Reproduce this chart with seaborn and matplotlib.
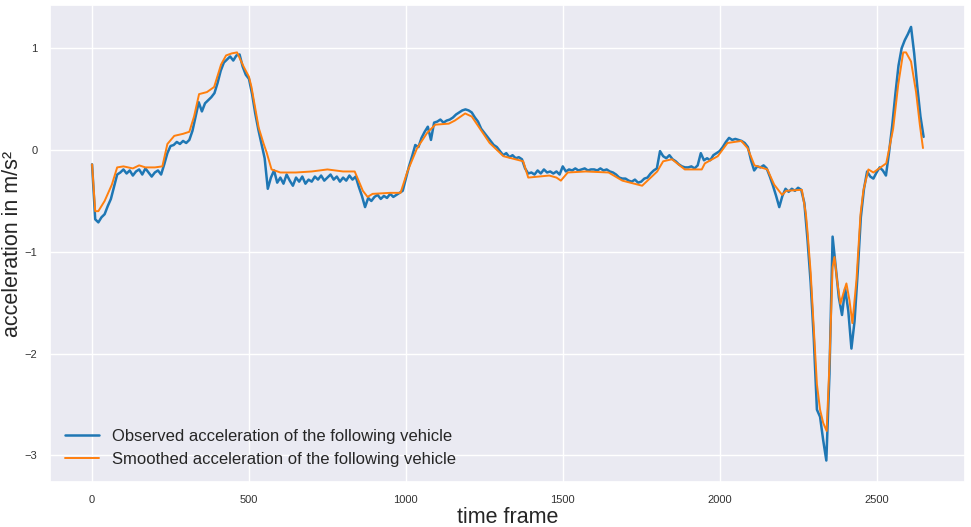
import numpy as np
import pandas as pd
import matplotlib
matplotlib.use("Agg")
import matplotlib.pyplot as plt
import seaborn as sns

# observed acceleration, one value every 10 time frames (0 .. 2650)
obs_frames = list(range(0, 2660, 10))
obs_accel = [
    -0.14, -0.68, -0.71, -0.66, -0.63, -0.55, -0.48, -0.36, -0.24, -0.22,
    -0.19, -0.23, -0.20, -0.25, -0.21, -0.19, -0.24, -0.18, -0.22, -0.26,
    -0.22, -0.20, -0.24, -0.14, -0.03, 0.04, 0.05, 0.08, 0.06, 0.09,
    0.07, 0.10, 0.19, 0.33, 0.47, 0.38, 0.46, 0.49, 0.52, 0.56,
    0.66, 0.78, 0.86, 0.89, 0.92, 0.88, 0.93, 0.94, 0.82, 0.74,
    0.70, 0.55, 0.36, 0.20, 0.06, -0.08, -0.38, -0.27, -0.20, -0.32,
    -0.27, -0.33, -0.24, -0.30, -0.35, -0.27, -0.31, -0.26, -0.33, -0.29,
    -0.31, -0.26, -0.29, -0.25, -0.30, -0.27, -0.24, -0.29, -0.26, -0.31,
    -0.27, -0.30, -0.25, -0.29, -0.26, -0.36, -0.45, -0.56, -0.47, -0.50,
    -0.46, -0.44, -0.48, -0.45, -0.47, -0.43, -0.46, -0.44, -0.42, -0.40,
    -0.28, -0.16, -0.06, 0.05, 0.03, 0.12, 0.18, 0.23, 0.10, 0.27,
    0.28, 0.30, 0.27, 0.29, 0.30, 0.32, 0.35, 0.37, 0.39, 0.40,
    0.39, 0.37, 0.32, 0.28, 0.21, 0.17, 0.13, 0.09, 0.05, 0.03,
    -0.01, -0.05, -0.03, -0.07, -0.05, -0.08, -0.07, -0.09, -0.18, -0.23,
    -0.22, -0.24, -0.20, -0.23, -0.19, -0.22, -0.21, -0.23, -0.21, -0.24,
    -0.16, -0.21, -0.19, -0.20, -0.18, -0.20, -0.19, -0.18, -0.20, -0.19,
    -0.19, -0.20, -0.18, -0.20, -0.19, -0.21, -0.22, -0.24, -0.27, -0.28,
    -0.28, -0.30, -0.31, -0.29, -0.32, -0.31, -0.28, -0.27, -0.23, -0.20,
    -0.18, -0.01, -0.06, -0.08, -0.05, -0.09, -0.11, -0.14, -0.16, -0.17,
    -0.17, -0.16, -0.18, -0.15, -0.03, -0.10, -0.08, -0.10, -0.05, -0.03,
    -0.01, 0.03, 0.08, 0.12, 0.10, 0.11, 0.10, 0.09, 0.07, 0.03,
    -0.10, -0.20, -0.16, -0.17, -0.15, -0.18, -0.26, -0.35, -0.45, -0.56,
    -0.45, -0.38, -0.41, -0.38, -0.40, -0.37, -0.39, -0.52, -0.88, -1.30,
    -1.85, -2.55, -2.62, -2.85, -3.05, -2.20, -0.85, -1.15, -1.45, -1.62,
    -1.36, -1.58, -1.95, -1.68, -1.20, -0.66, -0.38, -0.21, -0.26, -0.28,
    -0.22, -0.17, -0.20, -0.25, -0.02, 0.24, 0.55, 0.83, 1.00, 1.08,
    1.14, 1.21, 0.95, 0.62, 0.33, 0.13,
]

# smoothed acceleration, read at its turning points
smooth_frames = [
    0, 10, 20, 40, 63, 80, 100, 130, 150, 170, 200, 224, 240, 262, 290, 310,
    325, 341, 366, 389, 411, 427, 445, 462, 483, 500, 508, 531, 547, 556, 572,
    600, 650, 700, 750, 800, 837, 863, 878, 894, 950, 983, 1005, 1036, 1068,
    1094, 1137, 1156, 1189, 1210, 1267, 1311, 1374, 1390, 1457, 1480, 1494,
    1516, 1573, 1646, 1690, 1753, 1801, 1820, 1848, 1889, 1943, 1953, 1994,
    2025, 2069, 2089, 2111, 2152, 2174, 2199, 2212, 2262, 2275, 2280, 2290,
    2300, 2310, 2320, 2330, 2341, 2350, 2360, 2366, 2375, 2385, 2395, 2404,
    2414, 2423, 2436, 2449, 2458, 2474, 2490, 2531, 2553, 2569, 2585, 2594,
    2610, 2626, 2638, 2648,
]
smooth_accel = [
    -0.14, -0.60, -0.60, -0.50, -0.34, -0.17, -0.16, -0.18, -0.15, -0.17,
    -0.17, -0.16, 0.06, 0.14, 0.16, 0.18, 0.33, 0.55, 0.57, 0.62, 0.84, 0.93,
    0.95, 0.96, 0.82, 0.72, 0.62, 0.22, 0.06, -0.02, -0.19, -0.22, -0.22,
    -0.21, -0.19, -0.21, -0.21, -0.40, -0.46, -0.43, -0.42, -0.42, -0.21,
    0.02, 0.17, 0.25, 0.26, 0.29, 0.36, 0.33, 0.07, -0.06, -0.11, -0.27,
    -0.25, -0.27, -0.30, -0.22, -0.21, -0.22, -0.30, -0.35, -0.21, -0.11,
    -0.09, -0.19, -0.19, -0.13, -0.06, 0.07, 0.09, 0.02, -0.15, -0.19, -0.34,
    -0.44, -0.40, -0.39, -0.63, -0.80, -1.20, -1.75, -2.30, -2.55, -2.68,
    -2.76, -2.10, -1.15, -1.05, -1.30, -1.51, -1.40, -1.31, -1.48, -1.70,
    -1.28, -0.63, -0.40, -0.19, -0.22, -0.13, 0.21, 0.64, 0.96, 0.96, 0.87,
    0.57, 0.25, 0.02,
]

obs = pd.DataFrame({"frame": obs_frames, "accel": obs_accel})
smooth = pd.DataFrame({"frame": smooth_frames, "accel": smooth_accel})

sns.set_theme(style="darkgrid")
plt.rcParams["font.family"] = ["Liberation Sans", "DejaVu Sans"]

fig, ax = plt.subplots(figsize=(9.71, 5.27), dpi=100)
fig.subplots_adjust(left=0.052, right=0.994, top=0.99, bottom=0.085)

sns.lineplot(data=obs, x="frame", y="accel", color="#1f77b4", linewidth=1.8,
             label="Observed acceleration of the following vehicle", ax=ax)
sns.lineplot(data=smooth, x="frame", y="accel", color="#ff7f0e", linewidth=1.4,
             label="Smoothed acceleration of the following vehicle", ax=ax)

ax.set_xlabel("time frame", fontsize=15.5, labelpad=1)
ax.set_ylabel("acceleration in m/s²", fontsize=15.5, labelpad=1)
ax.set_xticks([0, 500, 1000, 1500, 2000, 2500])
ax.set_yticks([-3, -2, -1, 0, 1])
ax.tick_params(labelsize=8, colors="#333333")
ax.legend(loc="lower left", fontsize=12, frameon=False)

fig.savefig("out.png", dpi=100)
